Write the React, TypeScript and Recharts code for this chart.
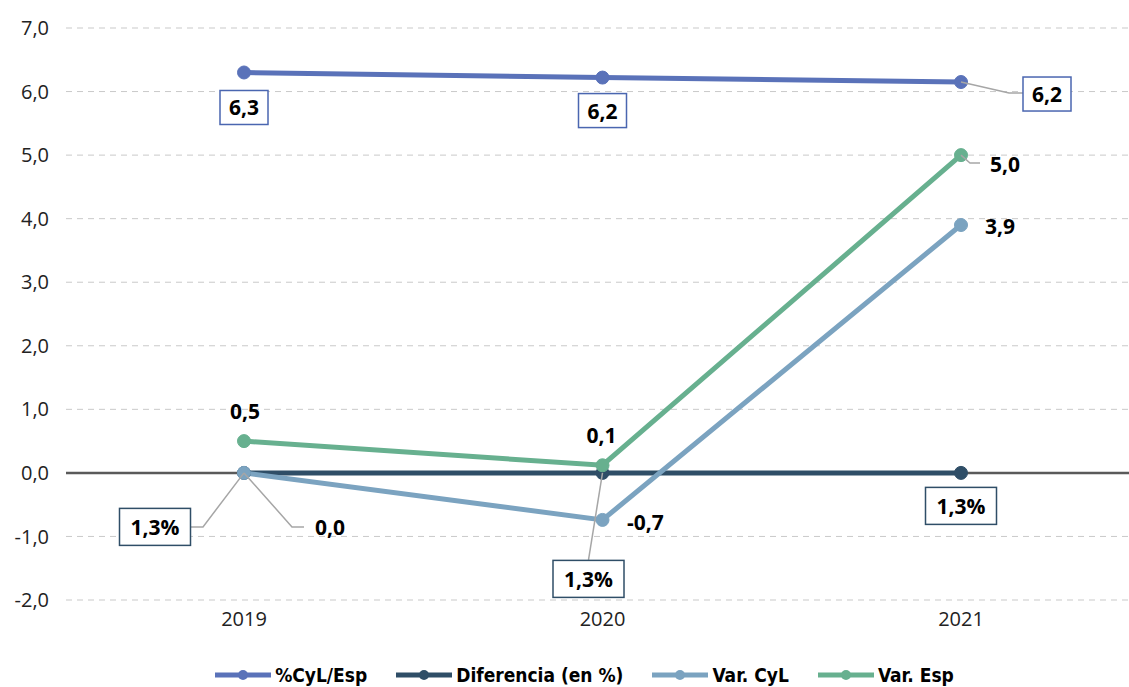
import React from 'react';
import {
  LineChart,
  Line,
  XAxis,
  YAxis,
  CartesianGrid,
  Legend,
  ReferenceLine,
  LabelList
} from 'recharts';

// Chart data
const years = ['2019', '2020', '2021'];
const cylEsp = [6.3, 6.22, 6.15];
const diferencia = [0, 0, 0];
const varCyl = [0, -0.74, 3.9];
const varEsp = [0.5, 0.12, 5.0];

// Label texts as shown on the chart
const cylEspLabels = ['6,3', '6,2', '6,2'];
const diferenciaLabels = ['1,3%', '1,3%', '1,3%'];
const varCylLabels = ['0,0', '-0,7', '3,9'];
const varEspLabels = ['0,5', '0,1', '5,0'];

const yTicks = [-2, -1, 0, 1, 2, 3, 4, 5, 6, 7];

const COLORS = {
  cylEsp: '#5a72b9',
  diferencia: '#2f4e67',
  varCyl: '#7ba3c0',
  varEsp: '#67b08f',
};

const data = years.map((year, i) => ({
  year,
  cylEsp: cylEsp[i],
  diferencia: diferencia[i],
  varCyl: varCyl[i],
  varEsp: varEsp[i],
}));

// Label placement relative to each point (layout only)
type Place = { dx: number; dy: number; box?: boolean; leader?: number[][] };

const cylEspPlaces: Place[] = [
  { dx: 0, dy: 35, box: true },
  { dx: 0, dy: 33, box: true },
  { dx: 86, dy: 12, box: true, leader: [[0, 0], [48, 11], [62, 11]] },
];
const diferenciaPlaces: Place[] = [
  { dx: -89, dy: 54, box: true, leader: [[0, 0], [-41, 54], [-53, 54]] },
  { dx: -14, dy: 106, box: true, leader: [[0, 0], [-14, 87]] },
  { dx: 0, dy: 33, box: true },
];
const varCylPlaces: Place[] = [
  { dx: 86, dy: 54, leader: [[0, 0], [48, 54], [60, 54]] },
  { dx: 43, dy: 2 },
  { dx: 39, dy: 1 },
];
const varEspPlaces: Place[] = [
  { dx: 1, dy: -30 },
  { dx: -1, dy: -30 },
  { dx: 44, dy: 9, leader: [[0, 0], [9, 8], [19, 8]] },
];

const LABEL_FONT = '"Open Sans", "Noto Sans", sans-serif';

const makeLabel = (texts: string[], places: Place[], boxColor = '', boxW = 48, boxH = 34) =>
  (props: any) => {
    const { x, y, index } = props;
    const p = places[index];
    if (!p || x == null || y == null) return null;
    const cx = x + p.dx;
    const cy = y + p.dy;
    return (
      <g>
        {p.leader && (
          <polyline
            points={p.leader.map(([a, b]) => `${x + a},${y + b}`).join(' ')}
            fill="none"
            stroke="#a6a6a6"
            strokeWidth={1.5}
          />
        )}
        {p.box && (
          <rect
            x={cx - boxW / 2}
            y={cy - boxH / 2}
            width={boxW}
            height={boxH}
            fill="#fff"
            stroke={boxColor}
            strokeWidth={1.5}
          />
        )}
        <text
          x={cx}
          y={cy}
          textAnchor="middle"
          dominantBaseline="central"
          fontFamily={LABEL_FONT}
          fontWeight={700}
          fontSize={21}
          fill="#000"
        >
          {texts[index]}
        </text>
      </g>
    );
  };

const CustomLegend = ({ payload }: any) => (
  <div
    style={{
      display: 'flex',
      justifyContent: 'center',
      alignItems: 'center',
      height: 24,
      paddingLeft: 40,
      gap: 29,
    }}
  >
    {(payload || []).map((entry: any) => (
      <div key={entry.value} style={{ display: 'flex', alignItems: 'center' }}>
        <svg width={56} height={14}>
          <line x1={0} y1={7} x2={56} y2={7} stroke={entry.color} strokeWidth={5} strokeLinecap="round" />
          <circle cx={28} cy={7} r={5} fill={entry.color} />
        </svg>
        <span
          style={{
            marginLeft: 4,
            fontFamily: '"Liberation Sans Narrow", "DejaVu Sans Condensed", "Open Sans", sans-serif',
            fontWeight: 700,
            fontSize: 19,
            color: '#000',
          }}
        >
          {entry.value}
        </span>
      </div>
    ))}
  </div>
);

const tickStyle = { fontFamily: LABEL_FONT, fontSize: 20, fill: '#222' };

export default function App() {
  return (
    <div
      style={{
        position: 'absolute',
        top: 0,
        left: 0,
        width: 1129,
        height: 687,
        overflow: 'hidden',
        background: '#fff',
      }}
    >
      <LineChart
        width={1129}
        height={687}
        data={data}
        margin={{ top: 28, right: 0, left: 0, bottom: 0 }}
      >
        <CartesianGrid vertical={false} stroke="#c9c9c9" strokeDasharray="6 5" />
        <XAxis
          dataKey="year"
          axisLine={false}
          tickLine={false}
          tickSize={0}
          tickMargin={12}
          height={63}
          padding={{ left: 178, right: 168 }}
          tick={tickStyle}
        />
        <YAxis
          domain={[-2, 7]}
          ticks={yTicks}
          interval={0}
          width={66}
          axisLine={false}
          tickLine={false}
          tickSize={0}
          tickMargin={17}
          tick={tickStyle}
          tickFormatter={(v: number) => v.toFixed(1).replace('.', ',')}
        />
        <ReferenceLine y={0} stroke="#5a5a5a" strokeWidth={2.5} />
        <Legend verticalAlign="bottom" content={<CustomLegend />} />
        <Line
          dataKey="cylEsp"
          name="%CyL/Esp"
          stroke={COLORS.cylEsp}
          strokeWidth={5}
          dot={{ r: 6.5, fill: COLORS.cylEsp, stroke: COLORS.cylEsp, strokeWidth: 1 }}
          activeDot={false}
          isAnimationActive={false}
        >
          <LabelList dataKey="cylEsp" content={makeLabel(cylEspLabels, cylEspPlaces, '#4a66b0', 48, 34)} />
        </Line>
        <Line
          dataKey="diferencia"
          name="Diferencia (en %)"
          stroke={COLORS.diferencia}
          strokeWidth={5}
          dot={{ r: 6.5, fill: COLORS.diferencia, stroke: COLORS.diferencia, strokeWidth: 1 }}
          activeDot={false}
          isAnimationActive={false}
        >
          <LabelList dataKey="diferencia" content={makeLabel(diferenciaLabels, diferenciaPlaces, '#2f4e67', 71, 37)} />
        </Line>
        <Line
          dataKey="varCyl"
          name="Var. CyL"
          stroke={COLORS.varCyl}
          strokeWidth={5}
          dot={{ r: 6.5, fill: COLORS.varCyl, stroke: COLORS.varCyl, strokeWidth: 1 }}
          activeDot={false}
          isAnimationActive={false}
        >
          <LabelList dataKey="varCyl" content={makeLabel(varCylLabels, varCylPlaces)} />
        </Line>
        <Line
          dataKey="varEsp"
          name="Var. Esp"
          stroke={COLORS.varEsp}
          strokeWidth={5}
          dot={{ r: 6.5, fill: COLORS.varEsp, stroke: COLORS.varEsp, strokeWidth: 1 }}
          activeDot={false}
          isAnimationActive={false}
        >
          <LabelList dataKey="varEsp" content={makeLabel(varEspLabels, varEspPlaces)} />
        </Line>
      </LineChart>
    </div>
  );
}
